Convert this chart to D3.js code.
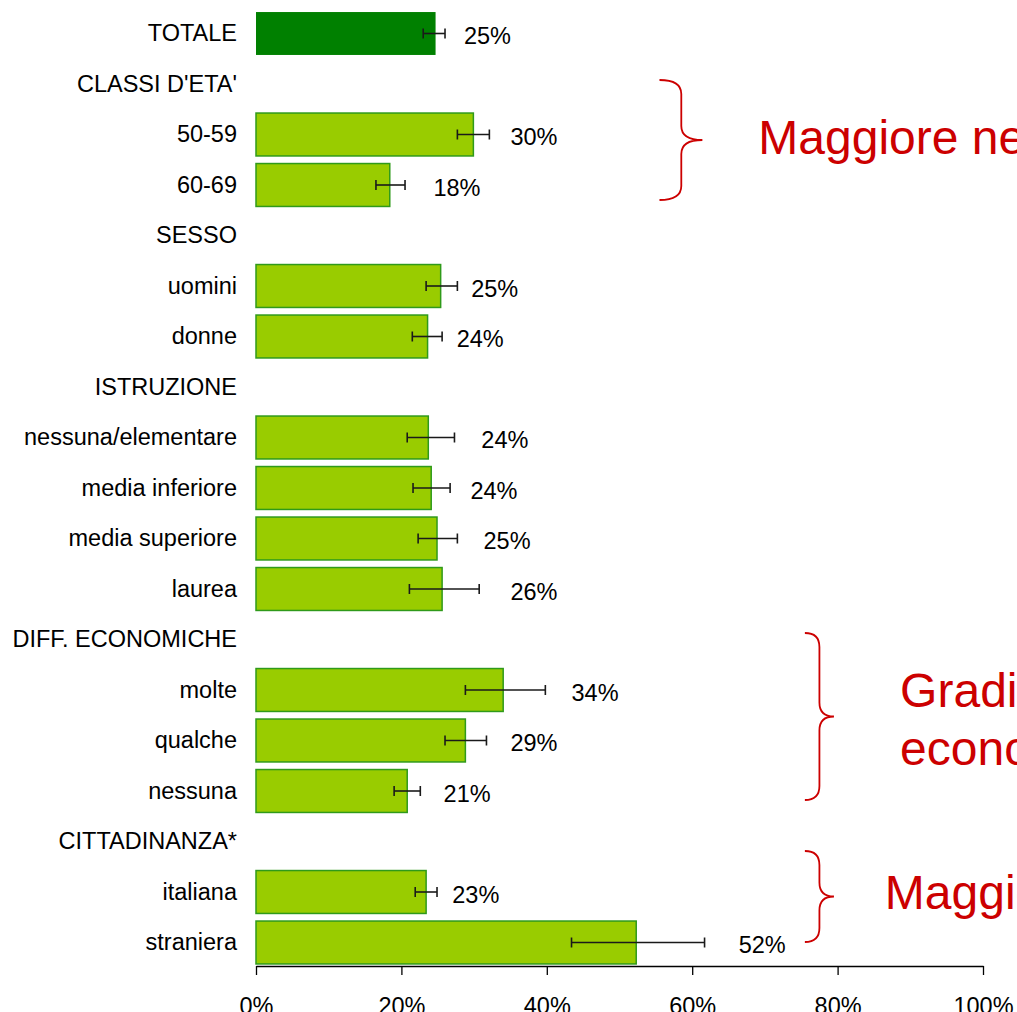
<!DOCTYPE html>
<html lang="it">
<head>
<meta charset="UTF-8">
<title>Prevalenza per sottogruppi</title>
<script src="https://d3js.org/d3.v7.min.js"></script>
<style>
    body { margin: 0; background: #fff; }
    svg { display: block; font-family: "Liberation Sans", Arial, sans-serif; }
    .row-label { font-size: 23.5px; fill: #000; }
    .value-label { font-size: 23.5px; fill: #000; }
    .x-axis text { font-size: 23.5px; fill: #000; }
    .note { font-size: 48px; fill: #cc0000; }
</style>
</head>
<body>
<svg width="1017" height="1012"></svg>
<script>
    // rows, top to bottom (headers have no value)
    const rows = ["TOTALE", "CLASSI D'ETA'", "50-59", "60-69", "SESSO", "uomini", "donne",
        "ISTRUZIONE", "nessuna/elementare", "media inferiore", "media superiore", "laurea",
        "DIFF. ECONOMICHE", "molte", "qualche", "nessuna", "CITTADINANZA*", "italiana", "straniera"];

    // percentage, null for section headers
    const values = [24.7, null, 29.9, 18.4, null, 25.4, 23.6,
        null, 23.7, 24.1, 24.9, 25.6,
        null, 34.0, 28.8, 20.8, null, 23.4, 52.3];

    // 95% confidence interval
    const ciLow  = [23.0, null, 27.7, 16.5, null, 23.4, 21.5,
        null, 20.8, 21.6, 22.3, 21.1,
        null, 28.8, 26.0, 19.0, null, 21.9, 43.4];
    const ciHigh = [26.0, null, 32.1, 20.5, null, 27.7, 25.6,
        null, 27.3, 26.7, 27.7, 30.7,
        null, 39.8, 31.7, 22.6, null, 24.9, 61.7];

    // where the value label was placed (in % of the axis)
    const labelAt = [28.6, null, 35.0, 24.4, null, 29.6, 27.6,
        null, 31.0, 29.5, 31.3, 35.0,
        null, 43.4, 35.0, 25.8, null, 27.0, 66.4];

    const xTicks = [0, 20, 40, 60, 80, 100];

    const svg = d3.select("svg");

    const x = d3.scaleLinear().domain([0, 100]).range([256, 983]);
    const y = d3.scaleBand().domain(rows).range([8.25, 967.75])
        .paddingInner(0.15).paddingOuter(0.075);

    const data = rows.map((r, i) => ({
        row: r, value: values[i], lo: ciLow[i], hi: ciHigh[i], lab: labelAt[i]
    }));
    const withValue = data.filter(d => d.value !== null);

    // row labels
    svg.append("g")
        .attr("transform", "translate(256,0)")
        .call(d3.axisLeft(y).tickSize(0).tickPadding(19))
        .call(g => g.select(".domain").remove())
        .selectAll("text")
        .attr("class", "row-label")
        .attr("font-family", null)
        .attr("font-size", null);

    // bars
    svg.append("g").selectAll("rect")
        .data(withValue)
        .join("rect")
        .attr("x", x(0))
        .attr("y", d => y(d.row))
        .attr("width", d => x(d.value) - x(0))
        .attr("height", y.bandwidth())
        .attr("fill", d => d.row === "TOTALE" ? "#008000" : "#99cc00")
        .attr("stroke", d => d.row === "TOTALE" ? "none" : "#2f9a1a")
        .attr("stroke-width", 1.5);

    // error bars
    const eb = svg.append("g").attr("stroke", "#1a1a1a").attr("stroke-width", 1.6);
    const mid = d => y(d.row) + y.bandwidth() / 2;
    eb.selectAll(".ci")
        .data(withValue)
        .join("line")
        .attr("x1", d => x(d.lo))
        .attr("x2", d => x(d.hi))
        .attr("y1", mid)
        .attr("y2", mid);
    eb.selectAll(".capl")
        .data(withValue)
        .join("line")
        .attr("x1", d => x(d.lo)).attr("x2", d => x(d.lo))
        .attr("y1", d => mid(d) - 5).attr("y2", d => mid(d) + 5);
    eb.selectAll(".caph")
        .data(withValue)
        .join("line")
        .attr("x1", d => x(d.hi)).attr("x2", d => x(d.hi))
        .attr("y1", d => mid(d) - 5).attr("y2", d => mid(d) + 5);

    // value labels
    svg.append("g").selectAll("text")
        .data(withValue)
        .join("text")
        .attr("class", "value-label")
        .attr("x", d => x(d.lab))
        .attr("y", mid)
        .attr("dy", "0.45em")
        .text(d => Math.round(d.value) + "%");

    // x axis
    svg.append("g")
        .attr("class", "x-axis")
        .attr("transform", "translate(0,966)")
        .call(d3.axisBottom(x).tickValues(xTicks).tickSize(9).tickSizeOuter(0)
            .tickPadding(22).tickFormat(d => d + "%"))
        .call(g => g.selectAll("line, path").attr("stroke", "#000").attr("stroke-width", 1.3))
        .selectAll("text")
        .attr("font-size", null)
        .attr("font-family", null);

    // curly braces with notes
    const notes = [
        { x0: 55.5, xm: 58.5, xt: 61.4, y0: 80, y1: 200, lines: ["Maggiore nei più giovani"], tx: 69.1, ty: 154 },
        { x0: 75.5, xm: 77.5, xt: 79.5, y0: 633, y1: 800, lines: ["Gradiente per difficoltà", "economiche"], tx: 88.6, ty: 707 },
        { x0: 75.5, xm: 77.5, xt: 79.5, y0: 851, y1: 942, lines: ["Maggiore negli stranieri"], tx: 86.5, ty: 909 }
    ];

    function brace(n) {
        const x0 = x(n.x0), xm = x(n.xm), xt = x(n.xt);
        const ym = (n.y0 + n.y1) / 2, r = 14;
        const p = d3.path();
        p.moveTo(x0, n.y0);
        p.quadraticCurveTo(xm, n.y0, xm, n.y0 + r);
        p.lineTo(xm, ym - r);
        p.quadraticCurveTo(xm, ym, xt, ym);
        p.quadraticCurveTo(xm, ym, xm, ym + r);
        p.lineTo(xm, n.y1 - r);
        p.quadraticCurveTo(xm, n.y1, x0, n.y1);
        return p.toString();
    }

    svg.append("g").selectAll("path")
        .data(notes)
        .join("path")
        .attr("d", brace)
        .attr("fill", "none")
        .attr("stroke", "#cc0000")
        .attr("stroke-width", 1.8);

    notes.forEach(n => {
        const t = svg.append("text")
            .attr("class", "note")
            .attr("x", x(n.tx))
            .attr("y", n.ty);
        n.lines.forEach((l, i) => {
            t.append("tspan")
                .attr("x", x(n.tx))
                .attr("dy", i === 0 ? 0 : 58)
                .text(l);
        });
    });
</script>
</body>
</html>
